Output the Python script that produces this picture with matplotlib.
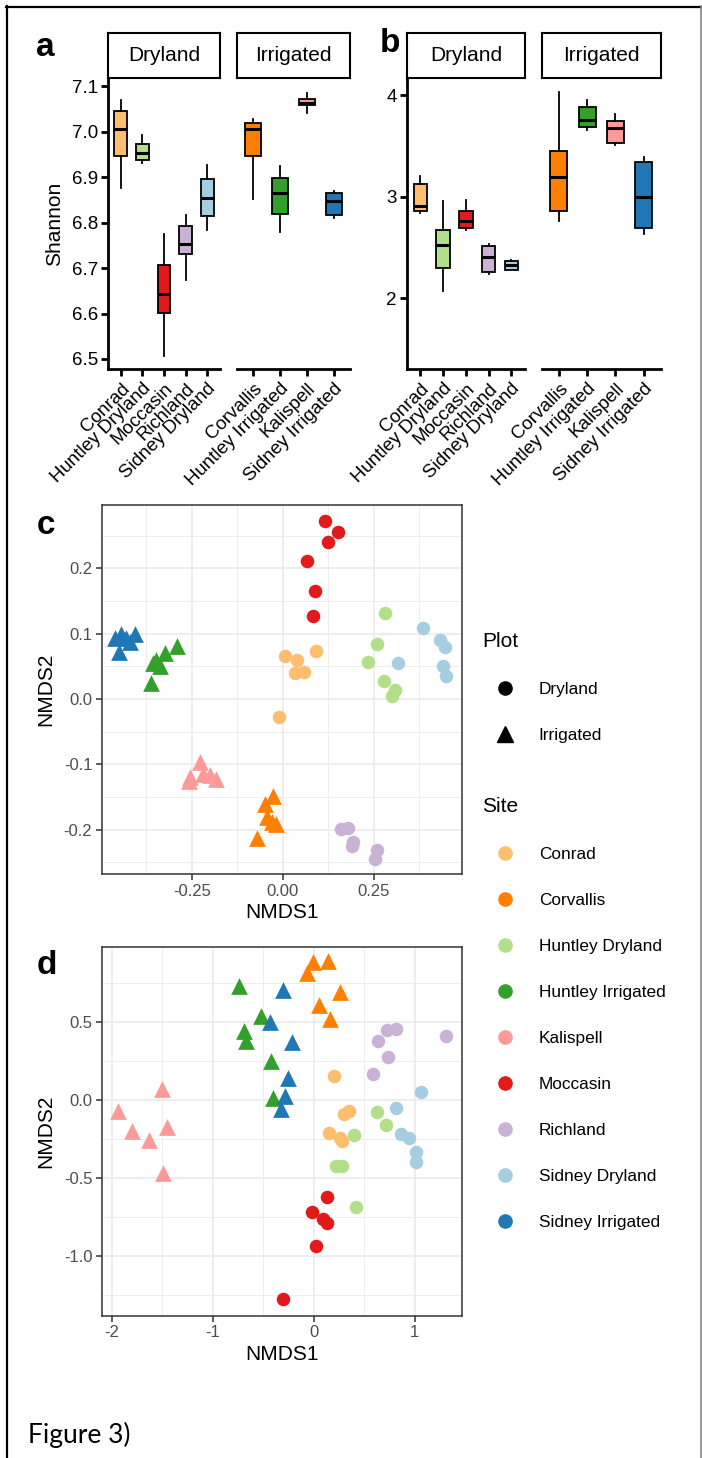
import matplotlib.pyplot as plt
from matplotlib.lines import Line2D
from matplotlib.ticker import MultipleLocator, FormatStrFormatter

plt.rcParams['font.family'] = ['Liberation Sans', 'DejaVu Sans']

W, H = 702, 1458

site_order = ["Conrad", "Corvallis", "Huntley Dryland", "Huntley Irrigated", "Kalispell",
              "Moccasin", "Richland", "Sidney Dryland", "Sidney Irrigated"]
site_colors = ["#FDBF6F", "#FF7F00", "#B2DF8A", "#33A02C", "#FB9A99",
               "#E31A1C", "#CAB2D6", "#A6CEE3", "#1F78B4"]
site_plot = ["Dryland", "Irrigated", "Dryland", "Irrigated", "Irrigated",
             "Dryland", "Dryland", "Dryland", "Irrigated"]

sites_dry = ["Conrad", "Huntley Dryland", "Moccasin", "Richland", "Sidney Dryland"]
sites_irr = ["Corvallis", "Huntley Irrigated", "Kalispell", "Sidney Irrigated"]

# box summaries: lower whisker, Q1, median, Q3, upper whisker
shannon_dry = [[6.875, 6.946, 7.005, 7.045, 7.069],
               [6.932, 6.937, 6.954, 6.973, 6.992],
               [6.507, 6.601, 6.642, 6.706, 6.774],
               [6.673, 6.731, 6.754, 6.792, 6.816],
               [6.783, 6.814, 6.853, 6.895, 6.927]]
shannon_irr = [[6.852, 6.947, 7.005, 7.018, 7.027],
               [6.779, 6.818, 6.866, 6.899, 6.924],
               [7.040, 7.058, 7.063, 7.071, 7.086],
               [6.810, 6.816, 6.847, 6.865, 6.870]]
div_b_dry = [[2.838, 2.864, 2.907, 3.129, 3.208],
             [2.069, 2.301, 2.524, 2.671, 2.962],
             [2.678, 2.691, 2.766, 2.864, 2.971],
             [2.242, 2.262, 2.412, 2.520, 2.534],
             [2.278, 2.281, 2.327, 2.370, 2.376]]
div_b_irr = [[2.766, 2.864, 3.195, 3.450, 4.033],
             [3.656, 3.686, 3.761, 3.885, 3.957],
             [3.506, 3.535, 3.673, 3.751, 3.817],
             [2.632, 2.697, 2.995, 3.345, 3.388]]

# NMDS scores, six samples per site in site_order
point_site = [s for s in site_order for _ in range(6)]
c_x = [0.005, 0.040, 0.091, 0.033, 0.058, -0.010,
       -0.027, -0.048, -0.043, -0.019, -0.031, -0.070,
       0.281, 0.259, 0.234, 0.277, 0.308, 0.299,
       -0.291, -0.323, -0.348, -0.337, -0.363, -0.356,
       -0.228, -0.254, -0.201, -0.185, -0.259, -0.219,
       0.116, 0.150, 0.125, 0.065, 0.087, 0.083,
       0.159, 0.180, 0.193, 0.191, 0.258, 0.252,
       0.386, 0.432, 0.444, 0.317, 0.440, 0.448,
       -0.444, -0.407, -0.449, -0.419, -0.432, -0.462]
c_y = [0.066, 0.059, 0.074, 0.040, 0.042, -0.027,
       -0.148, -0.161, -0.181, -0.191, -0.189, -0.213,
       0.131, 0.084, 0.057, 0.027, 0.013, 0.004,
       0.081, 0.071, 0.059, 0.051, 0.024, 0.055,
       -0.097, -0.119, -0.117, -0.122, -0.125, -0.115,
       0.272, 0.255, 0.240, 0.211, 0.166, 0.127,
       -0.199, -0.198, -0.219, -0.225, -0.232, -0.245,
       0.109, 0.091, 0.080, 0.055, 0.051, 0.035,
       0.099, 0.099, 0.072, 0.087, 0.094, 0.093]
d_x = [0.199, 0.298, 0.348, 0.156, 0.258, 0.281,
       -0.010, 0.139, -0.063, 0.265, 0.053, 0.159,
       0.623, 0.712, 0.397, 0.225, 0.281, 0.424,
       -0.745, -0.520, -0.689, -0.672, -0.424, -0.404,
       -1.500, -1.944, -1.805, -1.632, -1.457, -1.497,
       0.132, -0.017, 0.089, 0.132, 0.026, -0.305,
       0.636, 0.728, 0.811, 0.738, 0.586, 1.315,
       1.066, 0.811, 0.861, 0.944, 1.017, 1.010,
       -0.308, -0.430, -0.215, -0.255, -0.281, -0.321]
d_y = [0.154, -0.092, -0.075, -0.214, -0.246, -0.267,
       0.882, 0.887, 0.812, 0.690, 0.609, 0.517,
       -0.081, -0.160, -0.229, -0.427, -0.427, -0.690,
       0.726, 0.534, 0.438, 0.374, 0.246, 0.011,
       0.068, -0.075, -0.203, -0.256, -0.177, -0.470,
       -0.626, -0.722, -0.765, -0.791, -0.940, -1.276,
       0.374, 0.449, 0.455, 0.274, 0.167, 0.406,
       0.049, -0.053, -0.218, -0.246, -0.338, -0.402,
       0.701, 0.498, 0.368, 0.139, 0.021, -0.058]

color_of = dict(zip(site_order, site_colors))
plot_of = dict(zip(site_order, site_plot))

fig = plt.figure(figsize=(W / 100, H / 100), dpi=100)


def px_axes(x0, y0, x1, y1):
    return fig.add_axes([x0 / W, 1 - y1 / H, (x1 - x0) / W, (y1 - y0) / H])


def box_facet(x0, x1, sites, summaries, ylim, yticks, title, show_y):
    ax = px_axes(x0, 78, x1, 369)
    stats = [dict(whislo=s[0], q1=s[1], med=s[2], q3=s[3], whishi=s[4], fliers=[])
             for s in summaries]
    bp = ax.bxp(stats, positions=range(1, len(sites) + 1), widths=0.6,
                patch_artist=True, showcaps=False,
                boxprops=dict(linewidth=1.3, edgecolor="black"),
                medianprops=dict(color="black", linewidth=2.2),
                whiskerprops=dict(color="black", linewidth=1.3))
    for patch, s in zip(bp["boxes"], sites):
        patch.set_facecolor(color_of[s])
    ax.set_xlim(0.4, len(sites) + 0.6)
    ax.set_ylim(*ylim)
    ax.set_xticks(range(1, len(sites) + 1))
    ax.set_xticklabels(sites, rotation=45, ha="right", va="top",
                       rotation_mode="anchor", fontsize=13.5)
    for side in ["top", "right"]:
        ax.spines[side].set_visible(False)
    ax.spines["bottom"].set_linewidth(2)
    if show_y:
        ax.spines["left"].set_linewidth(2)
        ax.set_yticks(yticks)
        ax.tick_params(axis="y", labelsize=13.5, width=2, length=5, pad=2)
    else:
        ax.spines["left"].set_visible(False)
        ax.set_yticks([])
    ax.tick_params(axis="x", width=2, length=5, pad=3)
    ax.patch.set_alpha(0)

    strip = px_axes(x0, 33, x1, 78)
    strip.set_xticks([])
    strip.set_yticks([])
    for sp in strip.spines.values():
        sp.set_linewidth(1.5)
    strip.text(0.5, 0.5, title, ha="center", va="center", fontsize=15,
               transform=strip.transAxes)
    return ax


# panel a: Shannon diversity
ax_a = box_facet(108, 220, sites_dry, shannon_dry, (6.478, 7.118),
                 [6.5, 6.6, 6.7, 6.8, 6.9, 7.0, 7.1], "Dryland", True)
ax_a.yaxis.set_major_formatter(FormatStrFormatter("%.1f"))
ax_a.set_ylabel("Shannon", fontsize=15, labelpad=6)
box_facet(237, 350, sites_irr, shannon_irr, (6.478, 7.118), [], "Irrigated", False)

# panel b
box_facet(406.7, 525, sites_dry, div_b_dry, (1.306, 4.17), [2, 3, 4], "Dryland", True)
box_facet(542, 660.7, sites_irr, div_b_irr, (1.306, 4.17), [], "Irrigated", False)


def nmds_panel(y0, y1, xs, ys, xlim, ylim, xmaj, ymaj, xfmt, yfmt):
    ax = px_axes(102, y0, 462, y1)
    for site in site_order:
        idx = [i for i, s in enumerate(point_site) if s == site]
        marker = "o" if plot_of[site] == "Dryland" else "^"
        size = 95 if marker == "o" else 145
        ax.scatter([xs[i] for i in idx], [ys[i] for i in idx], s=size, marker=marker,
                   color=color_of[site], linewidths=0, zorder=3)
    ax.set_xlim(*xlim)
    ax.set_ylim(*ylim)
    ax.xaxis.set_major_locator(MultipleLocator(xmaj))
    ax.xaxis.set_minor_locator(MultipleLocator(xmaj / 2))
    ax.yaxis.set_major_locator(MultipleLocator(ymaj))
    ax.yaxis.set_minor_locator(MultipleLocator(ymaj / 2))
    ax.xaxis.set_major_formatter(FormatStrFormatter(xfmt))
    ax.yaxis.set_major_formatter(FormatStrFormatter(yfmt))
    ax.grid(which="major", color="#EBEBEB", linewidth=1.2)
    ax.grid(which="minor", color="#EBEBEB", linewidth=0.6)
    ax.set_axisbelow(True)
    for sp in ax.spines.values():
        sp.set_color("#333333")
        sp.set_linewidth(1.1)
    ax.tick_params(which="major", color="#333333", labelcolor="#4D4D4D",
                   labelsize=12, length=4, width=1.1, pad=3)
    ax.tick_params(which="minor", length=0)
    ax.set_xlabel("NMDS1", fontsize=15, labelpad=3)
    ax.set_ylabel("NMDS2", fontsize=15, labelpad=6)
    return ax


nmds_panel(505, 874, c_x, c_y, (-0.497, 0.492), (-0.268, 0.297), 0.25, 0.1, "%.2f", "%.1f")
nmds_panel(946.7, 1315.7, d_x, d_y, (-2.099, 1.470), (-1.385, 0.981), 1, 0.5, "%d", "%.1f")

# panel letters
for letter, x, y in [("a", 36, 48), ("b", 380, 44), ("c", 37, 525), ("d", 37, 966)]:
    fig.text(x / W, 1 - y / H, letter, fontsize=24, fontweight="bold", va="center")

# legends
plot_handles = [Line2D([], [], marker="o", linestyle="", color="black", markersize=9.5),
                Line2D([], [], marker="^", linestyle="", color="black", markersize=11.5)]
fig.legend(plot_handles, ["Dryland", "Irrigated"], title="Plot",
           loc="upper left", bbox_to_anchor=(482 / W, 1 - 632 / H),
           frameon=False, fontsize=12.4, title_fontsize=15,
           handlelength=2.7, handletextpad=0.6, labelspacing=1.8,
           borderpad=0, borderaxespad=0, alignment="left")
site_handles = [Line2D([], [], marker="o", linestyle="", color=c, markersize=9.5)
                for c in site_colors]
fig.legend(site_handles, site_order, title="Site",
           loc="upper left", bbox_to_anchor=(482 / W, 1 - 797 / H),
           frameon=False, fontsize=12.4, title_fontsize=15,
           handlelength=2.7, handletextpad=0.6, labelspacing=1.8,
           borderpad=0, borderaxespad=0, alignment="left")

fig.text(28 / W, 1 - 1435 / H, "Figure 3)", family=["Lato", "DejaVu Sans"],
         fontsize=19, va="center")

# page frame
fig.add_artist(Line2D([6 / W, 701 / W], [1 - 6.5 / H, 1 - 6.5 / H], color="black", lw=1.6))
fig.add_artist(Line2D([6.5 / W, 6.5 / W], [0, 1 - 6 / H], color="black", lw=1.6))
fig.add_artist(Line2D([700.5 / W, 700.5 / W], [0, 1 - 6 / H], color="#888888", lw=1.2))

fig.savefig("out.png", dpi=100)
